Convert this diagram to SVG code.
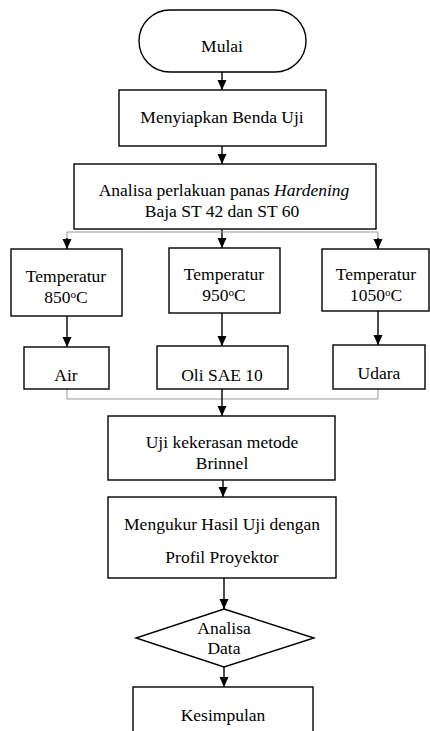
<svg xmlns="http://www.w3.org/2000/svg" width="430" height="731" viewBox="0 0 430 731">
<style>
.b{fill:#fff;stroke:#000;stroke-width:1.4}
text{font-family:'Liberation Serif','Times New Roman','DejaVu Serif',serif;font-size:17.5px;fill:#000;text-anchor:middle}
.c{fill:none;stroke:#000;stroke-width:1.4}
.g{fill:none;stroke:#999;stroke-width:1}
.sup{font-size:11px}
</style>
<defs>
<marker id="ah" markerWidth="11" markerHeight="11" refX="10" refY="5.5" orient="auto" markerUnits="userSpaceOnUse">
<path d="M0,1 L10,5.5 L0,10 Z" fill="#000"/>
</marker>
</defs>
<rect width="430" height="731" fill="#fff"/>
<g id="connectors">
<line class="c" x1="222" y1="72" x2="222" y2="90" marker-end="url(#ah)"/>
<line class="c" x1="222" y1="146" x2="222" y2="164" marker-end="url(#ah)"/>
<line class="c" x1="222" y1="229" x2="222" y2="248" marker-end="url(#ah)"/>
<polyline class="g" points="67,248 67,232 378,232 378,248"/>
<line class="c" x1="67" y1="238" x2="67" y2="249" marker-end="url(#ah)"/>
<line class="c" x1="378" y1="238" x2="378" y2="249" marker-end="url(#ah)"/>
<line class="c" x1="67" y1="316" x2="67" y2="347" marker-end="url(#ah)"/>
<line class="c" x1="222" y1="313" x2="222" y2="346" marker-end="url(#ah)"/>
<line class="c" x1="378" y1="311" x2="378" y2="345" marker-end="url(#ah)"/>
<polyline class="g" points="67,389 67,399 378,399 378,389"/>
<line class="c" x1="222" y1="389" x2="222" y2="416" marker-end="url(#ah)"/>
<line class="c" x1="223" y1="480" x2="223" y2="497" marker-end="url(#ah)"/>
<line class="c" x1="224" y1="578" x2="224" y2="609" marker-end="url(#ah)"/>
<line class="c" x1="224" y1="667" x2="224" y2="687" marker-end="url(#ah)"/>
</g>
<g id="mulai">
<rect class="b" x="139" y="10" width="167" height="62" rx="31" ry="31"/>
<text x="222" y="52">Mulai</text>
</g>
<g id="menyiapkan">
<rect class="b" x="119" y="90" width="207" height="56"/>
<text x="222" y="123">Menyiapkan Benda Uji</text>
</g>
<g id="analisa-perlakuan">
<rect class="b" x="74" y="164" width="302" height="65"/>
<text x="224" y="196">Analisa perlakuan panas <tspan font-style="italic">Hardening</tspan></text>
<text x="222" y="217">Baja ST 42 dan ST 60</text>
</g>
<g id="temp850">
<rect class="b" x="11" y="249" width="111" height="67"/>
<text x="66" y="282">Temperatur</text>
<text x="66" y="303">850<tspan class="sup" dy="-5">o</tspan><tspan dy="5">C</tspan></text>
</g>
<g id="temp950">
<rect class="b" x="169" y="248" width="111" height="65"/>
<text x="224" y="280">Temperatur</text>
<text x="224" y="301">950<tspan class="sup" dy="-5">o</tspan><tspan dy="5">C</tspan></text>
</g>
<g id="temp1050">
<rect class="b" x="322" y="249" width="107" height="62"/>
<text x="376" y="280">Temperatur</text>
<text x="376" y="301">1050<tspan class="sup" dy="-5">o</tspan><tspan dy="5">C</tspan></text>
</g>
<g id="air">
<rect class="b" x="24" y="347" width="85" height="42"/>
<text x="66" y="381">Air</text>
</g>
<g id="oli">
<rect class="b" x="157" y="346" width="131" height="43"/>
<text x="222" y="381">Oli SAE 10</text>
</g>
<g id="udara">
<rect class="b" x="333" y="345" width="92" height="44"/>
<text x="379" y="379">Udara</text>
</g>
<g id="uji">
<rect class="b" x="108" y="416" width="227" height="64"/>
<text x="222" y="448">Uji kekerasan metode</text>
<text x="222" y="469">Brinnel</text>
</g>
<g id="mengukur">
<rect class="b" x="108" y="497" width="228" height="81"/>
<text x="222" y="530">Mengukur Hasil Uji dengan</text>
<text x="222" y="563">Profil Proyektor</text>
</g>
<g id="analisa-data">
<polygon class="b" points="224,609 314,638 224,667 136,638"/>
<text x="224" y="634">Analisa</text>
<text x="224" y="654">Data</text>
</g>
<g id="kesimpulan">
<rect class="b" x="133" y="687" width="180" height="50"/>
<text x="223" y="721">Kesimpulan</text>
</g>
</svg>
